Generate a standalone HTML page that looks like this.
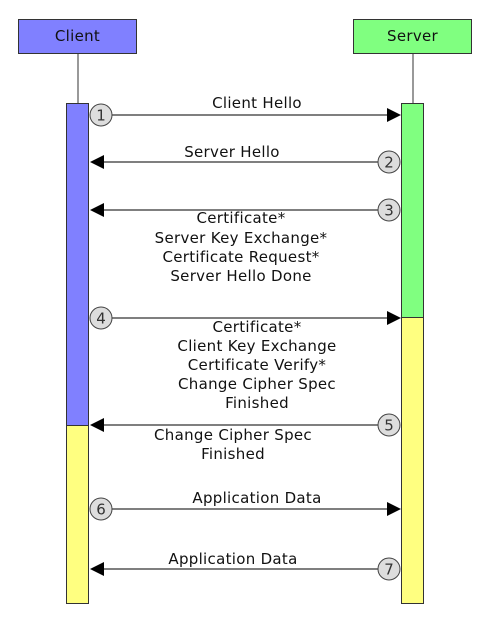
<!DOCTYPE html>
<html><head><style>body{margin:0;background:#fff}</style></head><body>
<svg width="485" height="622" xmlns="http://www.w3.org/2000/svg" font-family="DejaVu Sans, Liberation Sans, sans-serif" font-size="15" fill="#111" letter-spacing="0.3">
<rect x="18.5" y="19.5" width="118" height="34" fill="#8080ff" stroke="#333"/>
<text x="77.5" y="41" text-anchor="middle">Client</text>
<rect x="353.5" y="19.5" width="118" height="34" fill="#80ff80" stroke="#333"/>
<text x="412.5" y="41" text-anchor="middle">Server</text>
<line x1="78" y1="53" x2="78" y2="103" stroke="#333"/>
<line x1="413" y1="53" x2="413" y2="103" stroke="#333"/>
<rect x="66.5" y="103.5" width="22" height="322" fill="#8080ff" stroke="#333"/>
<rect x="66.5" y="425.5" width="22" height="178" fill="#ffff80" stroke="#333"/>
<rect x="401.5" y="103.5" width="22" height="214" fill="#80ff80" stroke="#333"/>
<rect x="401.5" y="317.5" width="22" height="286" fill="#ffff80" stroke="#333"/>
<g stroke="#333" stroke-width="1.3">
<line x1="112" y1="115" x2="390" y2="115"/>
<line x1="100" y1="162" x2="378" y2="162"/>
<line x1="100" y1="210" x2="378" y2="210"/>
<line x1="112" y1="318" x2="390" y2="318"/>
<line x1="100" y1="425" x2="378" y2="425"/>
<line x1="112" y1="509" x2="390" y2="509"/>
<line x1="100" y1="569" x2="378" y2="569"/>
</g>
<g fill="#000">
<polygon points="401,115 387,108 387,122"/>
<polygon points="90,162 104,155 104,169"/>
<polygon points="90,210 104,203 104,217"/>
<polygon points="401,318 387,311 387,325"/>
<polygon points="90,425 104,418 104,432"/>
<polygon points="401,509 387,502 387,516"/>
<polygon points="90,569 104,562 104,576"/>
</g>
<g fill="#ddd" stroke="#444" stroke-width="1">
<circle cx="101" cy="115" r="11"/><circle cx="389" cy="162" r="11"/>
<circle cx="389" cy="210" r="11"/><circle cx="101" cy="318" r="11"/>
<circle cx="389" cy="425" r="11"/><circle cx="101" cy="509" r="11"/>
<circle cx="389" cy="569" r="11"/>
</g>
<g text-anchor="middle" font-size="15" fill="#333" letter-spacing="0">
<text x="101" y="120.5">1</text><text x="389" y="167.5">2</text><text x="389" y="215.5">3</text>
<text x="101" y="323.5">4</text><text x="389" y="430.5">5</text><text x="101" y="514.5">6</text><text x="389" y="574.5">7</text>
</g>
<g text-anchor="middle">
<text x="257" y="108">Client Hello</text>
<text x="232" y="157">Server Hello</text>
<text x="241" y="223">Certificate*</text>
<text x="241" y="243">Server Key Exchange*</text>
<text x="241" y="262">Certificate Request*</text>
<text x="241" y="281">Server Hello Done</text>
<text x="257" y="332">Certificate*</text>
<text x="257" y="351">Client Key Exchange</text>
<text x="257" y="370">Certificate Verify*</text>
<text x="257" y="389">Change Cipher Spec</text>
<text x="257" y="408">Finished</text>
<text x="233" y="440">Change Cipher Spec</text>
<text x="233" y="459">Finished</text>
<text x="257" y="503">Application Data</text>
<text x="233" y="564">Application Data</text>
</g>
</svg>
</body></html>
